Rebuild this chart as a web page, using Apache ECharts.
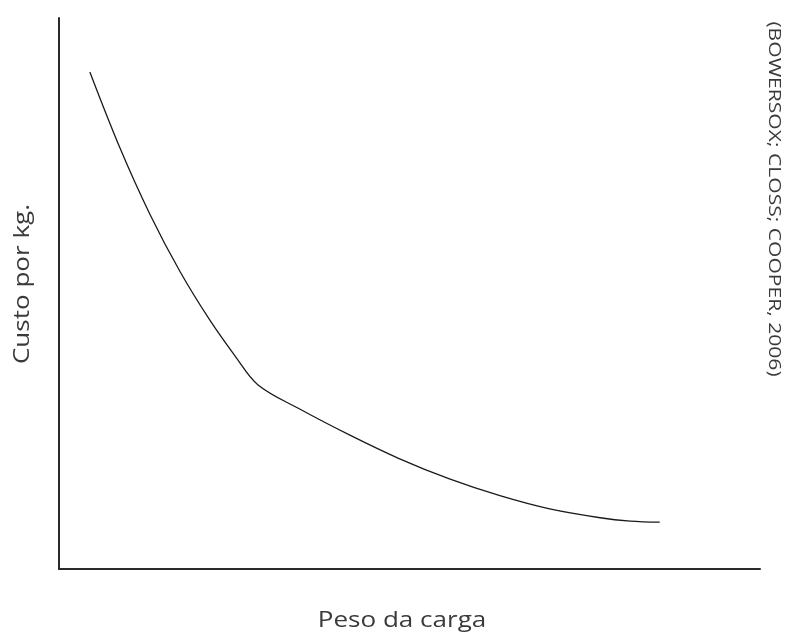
<!DOCTYPE html>
<html>
<head>
<meta charset="utf-8">
<script src="https://cdn.jsdelivr.net/npm/echarts@6/dist/echarts.min.js"></script>
<style>
  html, body { margin: 0; padding: 0; background: #fff; }
  #chart { width: 790px; height: 635px; }
</style>
</head>
<body>
<div id="chart"></div>
<script>
// Shipment weight (relative units) against cost per kg (relative units)
const pesoCarga = [4.4, 8.7, 13.0, 17.3, 21.5, 25.1, 28.4, 34.4, 41.5, 48.6, 55.8, 62.9, 70.0, 77.2, 81.5, 85.7];
const custoPorKg = [90.2, 76.4, 64.3, 53.9, 45.2, 38.7, 33.4, 29.0, 24.3, 20.0, 16.3, 13.3, 10.9, 9.3, 8.7, 8.5];

const xTitle = 'Peso da carga';
const yTitle = 'Custo por kg.';
const sourceNote = '(BOWERSOX; CLOSS; COOPER, 2006)';

const fontFamily = '"Open Sans", "Noto Sans", sans-serif';
const textColor = '#3a3a3a';
const stretch = 1.24;

const chart = echarts.init(document.getElementById('chart'), null, { renderer: 'canvas' });

const axisCommon = {
  type: 'value',
  min: 0,
  max: 100,
  axisLine: { show: true, lineStyle: { color: '#2a2a2a', width: 2 } },
  axisTick: { show: false },
  axisLabel: { show: false },
  splitLine: { show: false }
};

function label(text, x, y, size, rotation) {
  return {
    type: 'text',
    x: x,
    y: y,
    rotation: rotation,
    scaleX: stretch,
    style: {
      text: text,
      fontFamily: fontFamily,
      fontSize: size,
      fill: textColor,
      align: 'center',
      verticalAlign: 'middle'
    }
  };
}

chart.setOption({
  backgroundColor: '#ffffff',
  animation: false,
  grid: { left: 59, right: 30, top: 18, bottom: 66, containLabel: false },
  xAxis: axisCommon,
  yAxis: axisCommon,
  graphic: [
    label(xTitle, 402, 621, 21, 0),
    label(yTitle, 23, 284, 21, Math.PI / 2),
    label(sourceNote, 774, 199, 17, -Math.PI / 2)
  ],
  series: [{
    type: 'line',
    data: pesoCarga.map((x, i) => [x, custoPorKg[i]]),
    smooth: 0.35,
    showSymbol: false,
    lineStyle: { color: '#1a1a1a', width: 1.3 }
  }]
});
</script>
</body>
</html>
